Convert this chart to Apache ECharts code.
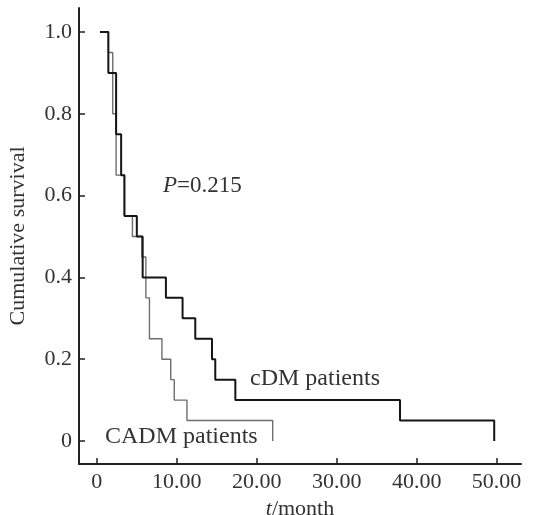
<!DOCTYPE html>
<html>
<head>
<meta charset="utf-8">
<script src="https://cdn.jsdelivr.net/npm/echarts@6/dist/echarts.min.js"></script>
<style>
  html, body { margin: 0; padding: 0; background: #fff; }
  #chart { width: 538px; height: 515px; }
</style>
</head>
<body>
<div id="chart"></div>
<script>
// Kaplan-Meier steps (time in months, cumulative survival)
const cdmTime = [0.41, 1.45, 2.42, 3.05, 3.46, 5.01, 5.74, 8.65, 10.73, 12.32, 14.41, 14.82, 17.33, 37.92, 49.7]
const cdmSurv = [1.0, 0.9, 0.75, 0.65, 0.55, 0.5, 0.4, 0.35, 0.3, 0.25, 0.2, 0.15, 0.1, 0.05, 0]
const cadmTime = [0.41, 1.45, 2.0, 2.42, 3.46, 4.46, 5.64, 6.14, 6.59, 8.15, 9.25, 9.69, 11.28, 22.0]
const cadmSurv = [1.0, 0.95, 0.8, 0.65, 0.55, 0.5, 0.45, 0.35, 0.25, 0.2, 0.15, 0.1, 0.05, 0]

const xTickValues = [0, 10, 20, 30, 40, 50]
const xTickLabels = ['0', '10.00', '20.00', '30.00', '40.00', '50.00']
const yTickValues = [0, 0.2, 0.4, 0.6, 0.8, 1.0]
const yTickLabels = ['0', '0.2', '0.4', '0.6', '0.8', '1.0']

const pValue = '0.215'

const font = '"Liberation Serif", "DejaVu Serif", serif'
const textColor = '#333'

const zip = (xs, ys) => xs.map((x, i) => [x, ys[i]])

const myChart = echarts.init(document.getElementById('chart'))

let option = {
  animation: false,
  backgroundColor: '#fff',
  // v6 pulls the grid in to fit labels, turn that off so the plot box stays put
  grid: { left: 79, right: 17, top: 8, bottom: 51, outerBoundsMode: 'none', containLabel: false },
  xAxis: {
    type: 'value',
    min: -2.22,
    max: 53.05,
    name: '{i|t}/month',
    nameLocation: 'middle',
    nameGap: 32,
    nameTextStyle: {
      fontFamily: font,
      fontSize: 22,
      color: textColor,
      rich: { i: { fontFamily: font, fontSize: 22, fontStyle: 'italic', color: textColor } },
    },
    axisLine: { onZero: false, lineStyle: { color: '#222', width: 2 } },
    axisTick: { inside: true, length: 6, customValues: xTickValues, lineStyle: { color: '#222', width: 1.5 } },
    axisLabel: {
      customValues: xTickValues,
      formatter: (v) => xTickLabels[xTickValues.indexOf(v)],
      fontFamily: font,
      fontSize: 22,
      color: textColor,
      margin: 7,
    },
    splitLine: { show: false },
  },
  yAxis: {
    type: 'value',
    min: -0.0562,
    max: 1.0587,
    name: 'Cumulative survival',
    nameLocation: 'middle',
    nameGap: 50,
    nameTextStyle: { fontFamily: font, fontSize: 22, color: textColor },
    axisLine: { show: true, onZero: false, lineStyle: { color: '#222', width: 2 } },
    axisTick: { show: true, inside: true, length: 6, customValues: yTickValues, lineStyle: { color: '#222', width: 1.5 } },
    axisLabel: {
      customValues: yTickValues,
      formatter: (v) => yTickLabels[yTickValues.indexOf(v)],
      fontFamily: font,
      fontSize: 22,
      color: textColor,
      margin: 7,
    },
    splitLine: { show: false },
  },
  graphic: [
    {
      type: 'text',
      left: 163,
      top: 174,
      style: { text: '{i|P}=' + pValue, font: '23px ' + font, fill: textColor,
        rich: { i: { fontStyle: 'italic', fontSize: 23, fontFamily: font, fill: textColor } } },
    },
    {
      type: 'text',
      left: 250,
      top: 367,
      style: { text: 'cDM patients', font: '24px ' + font, fill: textColor },
    },
    {
      type: 'text',
      left: 105,
      top: 425,
      style: { text: 'CADM patients', font: '24px ' + font, fill: textColor },
    },
  ],
  series: [
    {
      name: 'CADM patients',
      type: 'line',
      step: 'end',
      showSymbol: false,
      data: zip(cadmTime, cadmSurv),
      lineStyle: { color: '#6e6e6e', width: 1.4 },
    },
    {
      name: 'cDM patients',
      type: 'line',
      step: 'end',
      showSymbol: false,
      data: zip(cdmTime, cdmSurv),
      lineStyle: { color: '#151515', width: 2 },
    },
  ],
}
myChart.setOption(option)
</script>
</body>
</html>
